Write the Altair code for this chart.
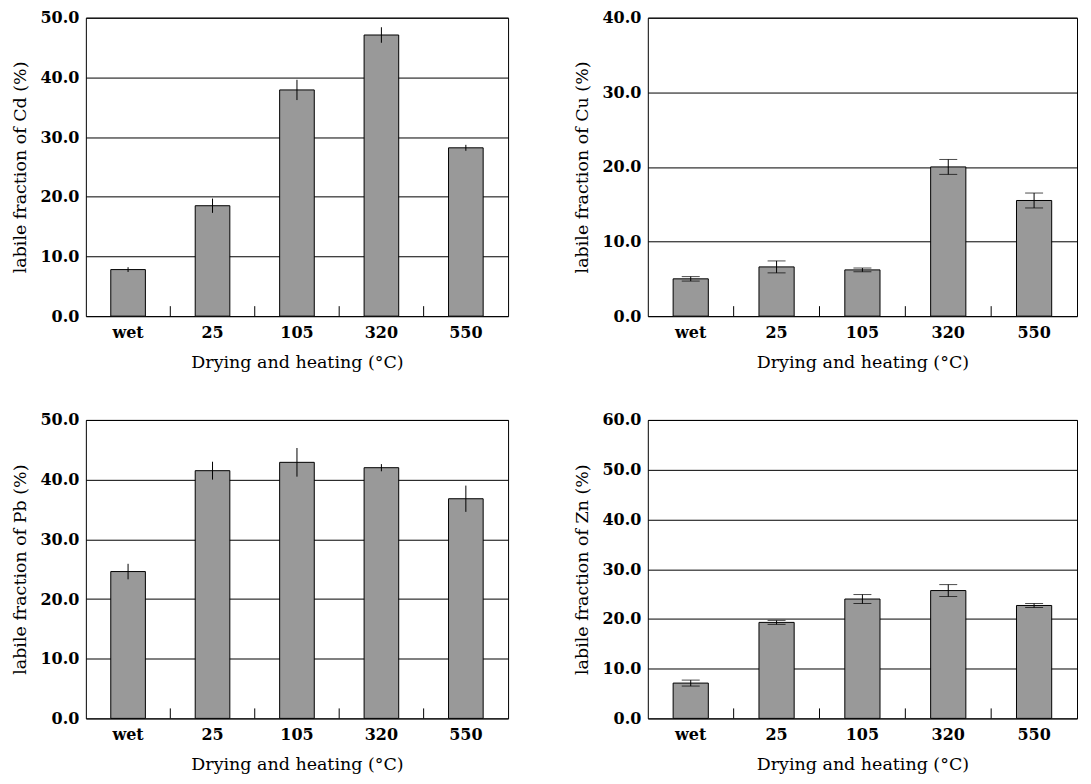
import altair as alt
import pandas as pd

categories = ["wet", "25", "105", "320", "550"]

cd_values = [7.8, 18.5, 37.9, 47.1, 28.2]
cd_errors = [0.4, 1.2, 1.7, 1.3, 0.5]

cu_values = [5.0, 6.6, 6.2, 20.0, 15.5]
cu_errors = [0.3, 0.8, 0.25, 1.0, 1.0]

pb_values = [24.6, 41.5, 42.9, 42.0, 36.8]
pb_errors = [1.3, 1.5, 2.4, 0.6, 2.2]

zn_values = [7.1, 19.3, 24.0, 25.7, 22.7]
zn_errors = [0.6, 0.4, 0.9, 1.2, 0.4]

FONT = "DejaVu Serif"
X_TITLE = "Drying and heating (°C)"


def panel(metal, values, errors, ymax, width, caps):
    df = pd.DataFrame({"cat": categories, "val": values, "err": errors})
    df["lo"] = df["val"] - df["err"]
    df["hi"] = df["val"] + df["err"]
    bounds = pd.DataFrame({"cat": categories[1:]})
    height = 299

    xsc = alt.Scale(domain=categories, paddingInner=0, paddingOuter=0)
    ysc = alt.Scale(domain=[0, ymax], nice=False)
    xax = alt.Axis(title=X_TITLE, labelAngle=0, ticks=False, domain=False,
                   grid=False, labelPadding=8, titlePadding=13)
    yax = alt.Axis(title=f"labile fraction of {metal} (%)", format=".1f",
                   values=list(range(0, ymax + 1, 10)), labelOverlap=False,
                   ticks=False, domain=False, grid=True, gridColor="black",
                   gridOpacity=1, gridWidth=1, labelPadding=7, titlePadding=10)

    def X(**kw):
        return alt.X("cat:N", sort=categories, scale=xsc, axis=xax, **kw)

    def Y(field):
        return alt.Y(f"{field}:Q", scale=ysc, axis=yax)

    bars = alt.Chart(df).mark_bar(fill="#999999", stroke="black", strokeWidth=1,
                                  width=alt.RelativeBandSize(0.41)).encode(x=X(), y=Y("val"))
    rule = alt.Chart(df).mark_rule(color="black", strokeWidth=1).encode(
        x=X(), y=Y("lo"), y2="hi:Q")
    layers = [bars, rule]
    if caps:
        for col in ["lo", "hi"]:
            layers.append(alt.Chart(df).mark_tick(color="black", size=18, thickness=1).encode(
                x=X(), y=Y(col)))
    sep = alt.Chart(bounds).mark_rule(color="black", strokeWidth=1).encode(
        x=X(bandPosition=0),
        y=alt.value(height - 10), y2=alt.value(height))
    layers.append(sep)
    return alt.layer(*layers).properties(width=width, height=height)


p1 = panel("Cd", cd_values, cd_errors, 50, 423, False)
p2 = panel("Cu", cu_values, cu_errors, 40, 430, True)
p3 = panel("Pb", pb_values, pb_errors, 50, 423, False)
p4 = panel("Zn", zn_values, zn_errors, 60, 430, True)

chart = alt.concat(p1, p2, p3, p4, columns=2, spacing={"row": 40, "column": 64}).properties(
    padding={"left": 3, "top": 0, "right": 5, "bottom": 5}
).configure_view(stroke="black", strokeWidth=1).configure_axis(
    labelFont=FONT, titleFont=FONT, labelFontSize=16, titleFontSize=17.5,
    labelFontWeight="bold", titleFontWeight="normal", labelColor="black", titleColor="black"
)

chart.save("out.html", embed_options={"renderer": "svg", "actions": False})
